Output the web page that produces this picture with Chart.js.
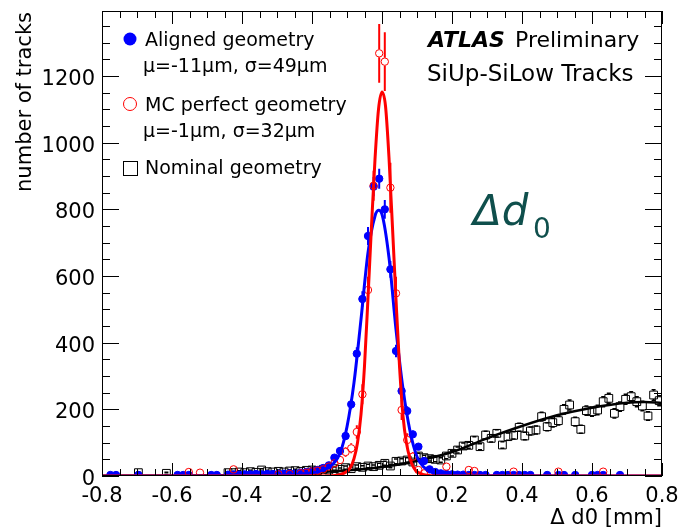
<!DOCTYPE html>
<html>
<head>
<meta charset="utf-8">
<script src="https://cdn.jsdelivr.net/npm/chart.js@4.4.1/dist/chart.umd.min.js"></script>
<style>
  html, body { margin: 0; padding: 0; background: #fff; }
</style>
</head>
<body>
<canvas id="myChart" width="679" height="531"></canvas>
<script>
// axis ticks
const xTickValues = [-0.8, -0.6, -0.4, -0.2, 0, 0.2, 0.4, 0.6, 0.8];
const xTickLabels = ["-0.8", "-0.6", "-0.4", "-0.2", "-0", "0.2", "0.4", "0.6", "0.8"];
const yTickValues = [0, 200, 400, 600, 800, 1000, 1200];
const yTickLabels = ["0", "200", "400", "600", "800", "1000", "1200"];

// Aligned geometry (blue, filled circles)
const alignedX = [-0.776, -0.760, -0.696, -0.584, -0.568, -0.552, -0.488, -0.472, -0.440, -0.424, -0.408, -0.392,
  -0.376, -0.360, -0.344, -0.328, -0.312, -0.296, -0.280, -0.264, -0.248, -0.232, -0.216, -0.200, -0.184, -0.168,
  -0.152, -0.136, -0.120, -0.104, -0.088, -0.072, -0.056, -0.040, -0.024, -0.008, 0.008, 0.024, 0.040, 0.056,
  0.072, 0.088, 0.104, 0.120, 0.136, 0.152, 0.168, 0.184, 0.200, 0.216, 0.232, 0.248, 0.264, 0.280, 0.296,
  0.328, 0.344, 0.360, 0.376, 0.392, 0.408, 0.424, 0.472, 0.504, 0.520, 0.552, 0.600, 0.616, 0.632, 0.680];
const alignedY = [3, 3, 3, 3, 3, 3, 3, 3, 4, 5, 4, 5,
  5, 6, 5, 6, 6, 7, 7, 8, 8, 10, 12, 15, 18, 24,
  32, 55, 75, 120, 215, 367, 531, 720, 868, 892, 800, 620, 375, 255,
  195, 125, 88, 45, 20, 12, 8, 6, 5, 4, 4, 3, 3, 3, 3,
  3, 3, 3, 3, 3, 3, 3, 3, 3, 3, 3, 3, 3, 3, 3];
const alignedErr = [2, 2, 2, 2, 2, 2, 2, 2, 2, 2, 2, 2,
  2, 2, 2, 2, 3, 3, 3, 3, 3, 3, 3, 4, 4, 5,
  6, 7, 9, 11, 15, 19, 23, 27, 29, 30, 28, 25, 19, 16,
  14, 11, 9, 7, 4, 3, 3, 2, 2, 2, 2, 2, 2, 2, 2,
  2, 2, 2, 2, 2, 2, 2, 2, 2, 2, 2, 2, 2, 2, 2];

// MC perfect geometry (red, open circles)
const perfectX = [-0.552, -0.520, -0.424, -0.296, -0.264, -0.232, -0.216, -0.200, -0.184, -0.168, -0.152, -0.136,
  -0.120, -0.104, -0.088, -0.072, -0.056, -0.040, -0.024, -0.008, 0.008, 0.024, 0.040, 0.056, 0.072, 0.088,
  0.104, 0.120, 0.184, 0.248, 0.264, 0.376, 0.504, 0.632];
const perfectY = [12, 10, 20, 5, 6, 8, 10, 14, 16, 20, 28, 38,
  48, 72, 83, 132, 245, 558, 871, 1268, 1243, 865, 548, 198, 108, 58,
  18, 8, 28, 18, 15, 13, 13, 13];
const perfectErr = [5, 5, 8, 4, 4, 5, 5, 6, 7, 8, 9, 10,
  12, 14, 15, 20, 30, 40, 45, 88, 88, 75, 50, 30, 20, 14,
  8, 5, 8, 7, 6, 6, 6, 6];

// Nominal geometry (black, open squares)
const nominalX = [-0.696, -0.616, -0.440, -0.424, -0.408, -0.392, -0.376, -0.360, -0.344, -0.328, -0.312, -0.296,
  -0.280, -0.264, -0.248, -0.232, -0.216, -0.200, -0.184, -0.168, -0.152, -0.136, -0.120, -0.104, -0.088, -0.072,
  -0.056, -0.040, -0.024, -0.008, 0.008, 0.024, 0.040, 0.056, 0.072, 0.088, 0.104, 0.120, 0.136, 0.152,
  0.168, 0.184, 0.200, 0.216, 0.232, 0.248, 0.264, 0.280, 0.296, 0.312, 0.328, 0.344, 0.360, 0.376,
  0.392, 0.408, 0.424, 0.440, 0.456, 0.472, 0.488, 0.504, 0.520, 0.536, 0.552, 0.568, 0.584, 0.600,
  0.616, 0.632, 0.648, 0.664, 0.680, 0.696, 0.712, 0.728, 0.744, 0.760, 0.776, 0.792];
const nominalY = [10, 8, 10, 10, 12, 10, 13, 11, 18, 13, 12, 14,
  12, 15, 16, 14, 17, 18, 16, 20, 18, 22, 20, 25, 22, 28,
  26, 30, 28, 32, 38, 30, 44, 45, 48, 42, 60, 55, 52, 50,
  48, 60, 68, 78, 90, 92, 108, 88, 123, 113, 128, 93, 118, 122,
  146, 120, 135, 138, 178, 148, 160, 166, 200, 213, 163, 140, 196, 193,
  198, 223, 233, 188, 208, 230, 238, 223, 210, 180, 243, 226];
const nominalErr = [3, 3, 3, 3, 4, 3, 4, 3, 4, 4, 3, 4,
  3, 4, 4, 4, 4, 4, 4, 4, 4, 5, 4, 5, 5, 5,
  5, 5, 5, 6, 6, 5, 7, 7, 7, 6, 8, 7, 7, 7,
  7, 8, 8, 9, 9, 9, 10, 9, 11, 11, 11, 10, 11, 11,
  12, 11, 12, 12, 13, 12, 13, 13, 14, 15, 13, 12, 14, 14,
  14, 15, 15, 14, 14, 15, 15, 15, 14, 13, 16, 15];

// fit curves
const alignedFitX = [-0.8, -0.4, -0.3, -0.25, -0.2, -0.18, -0.16, -0.14, -0.12, -0.10, -0.08, -0.06, -0.04,
  -0.02, -0.01, 0.0, 0.02, 0.04, 0.06, 0.08, 0.10, 0.12, 0.14, 0.16, 0.2, 0.3, 0.8];
const alignedFitY = [0, 1, 3, 5, 10, 14, 22, 36, 68, 148, 280, 470, 670,
  780, 797, 785, 655, 440, 262, 135, 58, 26, 12, 6, 3, 1, 0];
const perfectFitX = [-0.8, -0.2, -0.14, -0.12, -0.10, -0.09, -0.08, -0.07, -0.06, -0.05, -0.04, -0.03, -0.02,
  -0.01, 0.0, 0.01, 0.02, 0.03, 0.04, 0.05, 0.06, 0.07, 0.08, 0.09, 0.10, 0.12, 0.14, 0.2, 0.8];
const perfectFitY = [0, 0, 1, 4, 14, 26, 52, 100, 185, 330, 535, 750, 950,
  1100, 1152, 1110, 955, 745, 530, 330, 180, 98, 52, 26, 13, 4, 1, 0, 0];
const nominalFitX = [-0.8, -0.7, -0.6, -0.5, -0.4, -0.3, -0.2, -0.1, 0.0, 0.1, 0.2, 0.3, 0.4, 0.5, 0.6, 0.7, 0.75, 0.8];
const nominalFitY = [0, 1, 1, 2, 3, 6, 10, 17, 27, 45, 72, 113, 150, 182, 205, 220, 222, 219];

const FONT = "DejaVu Sans";
const pts = (xs, ys) => xs.map((x, i) => ({ x, y: ys[i] }));

const errorSets = [
  { xs: nominalX, ys: nominalY, es: nominalErr, color: "#000", gap: 4, cap: 2, width: 1.5 },
  { xs: alignedX, ys: alignedY, es: alignedErr, color: "#0000ff", gap: 0, cap: 0, width: 2 },
  { xs: perfectX, ys: perfectY, es: perfectErr, color: "#ff0000", gap: 4, cap: 0, width: 2 },
];

const errorBars = {
  id: "errorBars",
  beforeDatasetsDraw(chart) {
    const { ctx, chartArea, scales } = chart;
    ctx.save();
    ctx.beginPath();
    ctx.rect(chartArea.left, chartArea.top, chartArea.right - chartArea.left, chartArea.bottom - chartArea.top);
    ctx.clip();
    errorSets.forEach((s) => {
      ctx.strokeStyle = s.color;
      ctx.lineWidth = s.width;
      s.xs.forEach((xv, i) => {
        const px = scales.x.getPixelForValue(xv);
        const py = scales.y.getPixelForValue(s.ys[i]);
        const top = scales.y.getPixelForValue(s.ys[i] + s.es[i]);
        const bot = scales.y.getPixelForValue(s.ys[i] - s.es[i]);
        ctx.beginPath();
        if (top < py - s.gap) { ctx.moveTo(px, py - s.gap); ctx.lineTo(px, top); }
        if (bot > py + s.gap) { ctx.moveTo(px, py + s.gap); ctx.lineTo(px, bot); }
        if (s.cap) {
          ctx.moveTo(px - s.cap, top); ctx.lineTo(px + s.cap, top);
          ctx.moveTo(px - s.cap, bot); ctx.lineTo(px + s.cap, bot);
        }
        ctx.stroke();
      });
    });
    ctx.restore();
  },
};

// ROOT-like frame: inward ticks on all four sides, labels, titles, legend
const frame = {
  id: "frame",
  afterDraw(chart) {
    const { ctx, chartArea: a, scales } = chart;
    ctx.save();
    ctx.strokeStyle = "#000";
    ctx.lineWidth = 1;
    ctx.strokeRect(a.left + 0.5, a.top + 0.5, a.right - a.left - 1, a.bottom - a.top - 1);

    ctx.beginPath();
    for (let i = 0; i <= 27; i++) {
      const py = Math.round(scales.y.getPixelForValue(i * 50)) + 0.5;
      const len = i % 4 === 0 ? 17 : 8;
      ctx.moveTo(a.left, py); ctx.lineTo(a.left + len, py);
      ctx.moveTo(a.right, py); ctx.lineTo(a.right - len, py);
    }
    for (let i = 0; i <= 32; i++) {
      const px = Math.round(scales.x.getPixelForValue(-0.8 + i * 0.05)) + 0.5;
      const len = i % 4 === 0 ? 13 : 7;
      ctx.moveTo(px, a.bottom); ctx.lineTo(px, a.bottom - len);
      ctx.moveTo(px, a.top); ctx.lineTo(px, a.top + len);
    }
    ctx.stroke();

    ctx.fillStyle = "#000";
    ctx.font = `21px "${FONT}"`;
    ctx.textBaseline = "alphabetic";
    // tick labels
    ctx.textAlign = "center";
    xTickValues.forEach((v, i) => {
      ctx.fillText(xTickLabels[i], scales.x.getPixelForValue(v), 502);
    });
    ctx.textAlign = "right";
    yTickValues.forEach((v, i) => {
      ctx.fillText(yTickLabels[i], 95, scales.y.getPixelForValue(v) + 9);
    });

    // axis titles
    ctx.fillText("\u0394 d0 [mm]", a.right, 524);
    ctx.save();
    ctx.translate(31, a.top + 1);
    ctx.rotate(-Math.PI / 2);
    ctx.fillText("number of tracks", 0, 0);
    ctx.restore();

    // ATLAS label
    ctx.textAlign = "left";
    ctx.font = `italic bold 22px "${FONT}"`;
    ctx.fillText("ATLAS", 428, 47);
    ctx.font = `22px "${FONT}"`;
    ctx.fillText("Preliminary", 515, 47);
    ctx.font = `23px "${FONT}"`;
    ctx.fillText("SiUp-SiLow Tracks", 427, 81);

    // Delta d0
    ctx.fillStyle = "#0f4f4c";
    ctx.font = `italic 42px "${FONT}"`;
    ctx.fillText("\u0394d", 473, 225);
    ctx.font = `28px "${FONT}"`;
    ctx.fillText("0", 533, 238);

    // legend
    ctx.fillStyle = "#000";
    ctx.font = `19px "${FONT}"`;
    ctx.fillText("Aligned geometry", 145, 46);
    ctx.fillText("\u03bc=-11\u03bcm, \u03c3=49\u03bcm", 143, 72);
    ctx.fillText("MC perfect geometry", 145, 111);
    ctx.fillText("\u03bc=-1\u03bcm, \u03c3=32\u03bcm", 143, 137);
    ctx.fillText("Nominal geometry", 145, 174);

    ctx.fillStyle = "#0000ff";
    ctx.beginPath();
    ctx.arc(130, 39, 6.5, 0, Math.PI * 2);
    ctx.fill();
    ctx.strokeStyle = "#ff0000";
    ctx.beginPath();
    ctx.arc(130, 104, 6.5, 0, Math.PI * 2);
    ctx.stroke();
    ctx.strokeStyle = "#000";
    ctx.strokeRect(123.5, 161.5, 14, 14);
    ctx.restore();
  },
};

const ctx = document.getElementById("myChart").getContext("2d");
new Chart(ctx, {
  type: "scatter",
  data: {
    datasets: [
      {
        label: "MC perfect fit",
        data: pts(perfectFitX, perfectFitY),
        showLine: true,
        borderColor: "#ff0000",
        borderWidth: 3,
        pointRadius: 0,
        cubicInterpolationMode: "monotone",
      },
      {
        label: "Aligned fit",
        data: pts(alignedFitX, alignedFitY),
        showLine: true,
        borderColor: "#0000ff",
        borderWidth: 3,
        pointRadius: 0,
        cubicInterpolationMode: "monotone",
      },
      {
        label: "MC perfect geometry",
        data: pts(perfectX, perfectY),
        pointStyle: "circle",
        pointRadius: 3.7,
        borderWidth: 1,
        borderColor: "#ff0000",
        backgroundColor: "rgba(255,255,255,0)",
      },
      {
        label: "Aligned geometry",
        data: pts(alignedX, alignedY),
        pointStyle: "circle",
        pointRadius: 3.7,
        borderWidth: 1,
        borderColor: "#0000ff",
        backgroundColor: "#0000ff",
      },
      {
        label: "Nominal fit",
        data: pts(nominalFitX, nominalFitY),
        showLine: true,
        borderColor: "#000",
        borderWidth: 2.5,
        pointRadius: 0,
        cubicInterpolationMode: "monotone",
      },
      {
        label: "Nominal geometry",
        data: pts(nominalX, nominalY),
        pointStyle: "rect",
        pointRadius: 5.5,
        borderWidth: 1,
        borderColor: "#000",
        backgroundColor: "rgba(255,255,255,0)",
      },
    ],
  },
  options: {
    responsive: false,
    animation: false,
    devicePixelRatio: 1,
    layout: { padding: { top: 11, right: 17, left: 102, bottom: 55 } },
    plugins: { legend: { display: false }, tooltip: { enabled: false } },
    scales: {
      x: { type: "linear", min: -0.8, max: 0.8, display: false },
      y: { type: "linear", min: 0, max: 1395, display: false },
    },
  },
  plugins: [errorBars, frame],
});
</script>
</body>
</html>
